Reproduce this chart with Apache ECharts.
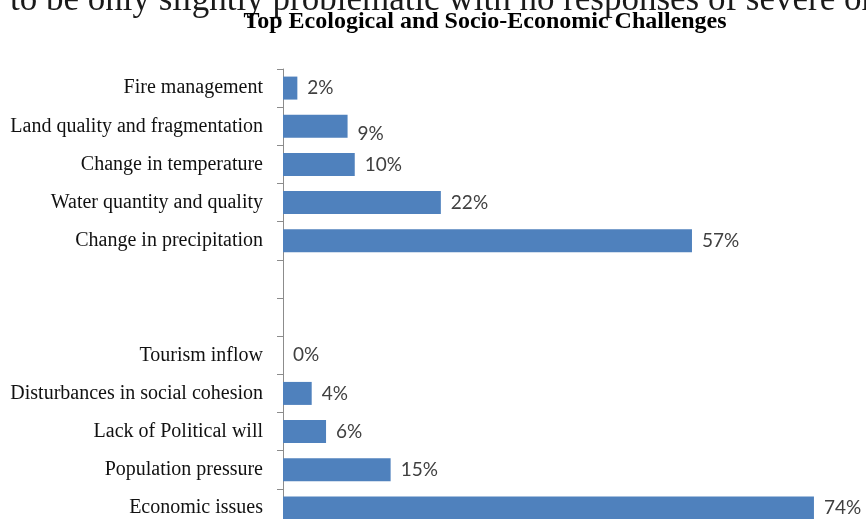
<!DOCTYPE html>
<html>
<head>
<meta charset="utf-8">
<script src="https://cdn.jsdelivr.net/npm/echarts@6/dist/echarts.min.js"></script>
<style>
  html, body { margin: 0; padding: 0; background: #fff; overflow: hidden; }
  #chart { width: 866px; height: 532px; }
</style>
</head>
<body>
<div id="chart"></div>
<script>
// Challenge categories, top to bottom; empty names leave blank rows between the two groups
const categories = [
  'Fire management',
  'Land quality and fragmentation',
  'Change in temperature',
  'Water quantity and quality',
  'Change in precipitation',
  '',
  '',
  'Tourism inflow',
  'Disturbances in social cohesion',
  'Lack of Political will',
  'Population pressure',
  'Economic issues'
];

// Share of responses (%) for each category; null for the spacer rows
const shares = [2, 9, 10, 22, 57, null, null, 0, 4, 6, 15, 74];

const titleText = 'Top Ecological and Socio-Economic Challenges';
const precedingLine = 'to be only slightly problematic with no responses of severe or';

// The label of the second bar sits a little below its bar
const seriesData = shares.map(function (v, i) {
  return i === 1 ? { value: v, label: { offset: [0, 8] } } : v;
});

const chart = echarts.init(document.getElementById('chart'), null, { renderer: 'canvas' });

chart.setOption({
  backgroundColor: '#ffffff',
  animation: false,
  graphic: [
    {
      type: 'text',
      left: 10,
      top: -17,
      style: {
        text: precedingLine,
        font: '35px "Liberation Serif"',
        fill: '#1a1a1a'
      }
    },
    {
      type: 'text',
      x: 485,
      y: 22,
      style: {
        text: titleText,
        font: 'bold 24px "Liberation Serif"',
        fill: '#000000',
        align: 'center',
        verticalAlign: 'middle'
      }
    }
  ],
  grid: {
    left: 283,
    top: 69,
    width: 574,
    height: 458,
    outerBoundsMode: 'none',
    containLabel: false
  },
  xAxis: {
    type: 'value',
    min: 0,
    max: 80,
    show: false,
    splitLine: { show: false }
  },
  yAxis: {
    type: 'category',
    data: categories,
    inverse: true,
    axisLine: { show: true, lineStyle: { color: '#8c8c8c', width: 1 } },
    axisTick: {
      show: true,
      alignWithLabel: false,
      interval: 0,
      length: 6,
      lineStyle: { color: '#8c8c8c' }
    },
    axisLabel: {
      interval: 0,
      margin: 20,
      color: '#111111',
      fontFamily: 'Liberation Serif',
      fontSize: 20
    },
    splitLine: { show: false }
  },
  series: [
    {
      type: 'bar',
      data: seriesData,
      barWidth: 23,
      itemStyle: { color: '#4f81bd' },
      label: {
        show: true,
        position: 'right',
        distance: 10,
        color: '#404040',
        fontFamily: 'Lato',
        fontSize: 19,
        formatter: function (p) {
          return p.value == null ? '' : p.value + '%';
        }
      }
    }
  ]
});
</script>
</body>
</html>
